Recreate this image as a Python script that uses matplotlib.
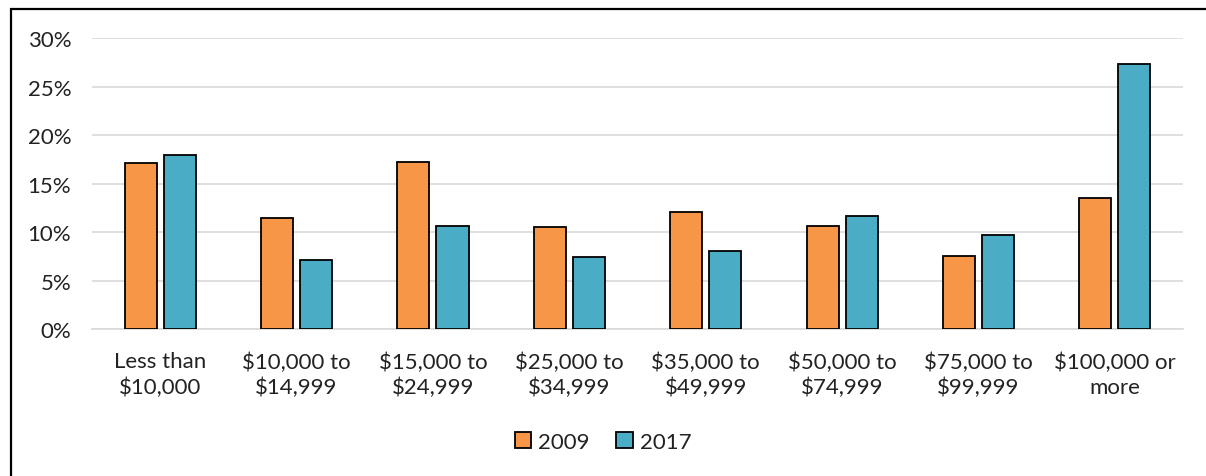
import numpy as np
import matplotlib.pyplot as plt
from matplotlib.patches import Rectangle
from matplotlib.ticker import FuncFormatter

plt.rcParams['font.family'] = ['Lato', 'DejaVu Sans']

# data
categories = ["Less than\n$10,000", "$10,000 to\n$14,999", "$15,000 to\n$24,999",
              "$25,000 to\n$34,999", "$35,000 to\n$49,999", "$50,000 to\n$74,999",
              "$75,000 to\n$99,999", "$100,000 or\nmore"]
vals_2009 = [17.1, 11.5, 17.2, 10.5, 12.1, 10.6, 7.5, 13.5]
vals_2017 = [17.9, 7.1, 10.6, 7.4, 8.1, 11.7, 9.7, 27.3]
series_labels = ["2009", "2017"]

c_orange = '#F79646'
c_blue = '#4BACC6'

fig = plt.figure(figsize=(12.06, 4.77), dpi=100)
ax = fig.add_axes([0.0763, 0.308, 0.9047, 0.610])

x = np.arange(len(categories))
w = 0.235
off = 0.143
ax.bar(x - off, vals_2009, w, color=c_orange, edgecolor='black', linewidth=1.3,
       label=series_labels[0], zorder=3)
ax.bar(x + off, vals_2017, w, color=c_blue, edgecolor='black', linewidth=1.3,
       label=series_labels[1], zorder=3)

ax.set_xlim(-0.5, len(categories) - 0.5)
ax.set_ylim(0, 30)
ax.set_yticks(np.arange(0, 31, 5))
ax.yaxis.set_major_formatter(FuncFormatter(lambda v, p: f"{int(v)}%"))
ax.set_xticks(x)
ax.set_xticklabels(categories, linespacing=1.3)

ax.grid(axis='y', color='#D9D9D9', linewidth=1.2, zorder=0)
for s in ['top', 'right', 'left']:
    ax.spines[s].set_visible(False)
ax.spines['bottom'].set_color('#D9D9D9')
ax.spines['bottom'].set_linewidth(1.2)
ax.tick_params(axis='y', length=0, pad=15, labelsize=16, colors='#222222')
ax.tick_params(axis='x', length=0, pad=16, labelsize=16, colors='#222222')

leg = fig.legend(loc='center', bbox_to_anchor=(0.5, 0.072), ncol=2, frameon=False,
                 fontsize=16, handlelength=0.75, handleheight=0.75, handletextpad=0.3,
                 columnspacing=1.2)
for t in leg.get_texts():
    t.set_color('#222222')

# chart border (cropped on right and bottom)
fig.patches.append(Rectangle((11 / 1206, -0.2), 1.2, 1.2 - 10 / 477,
                             transform=fig.transFigure, fill=False,
                             edgecolor='black', linewidth=1.6))

fig.savefig('out.png', dpi=100)
